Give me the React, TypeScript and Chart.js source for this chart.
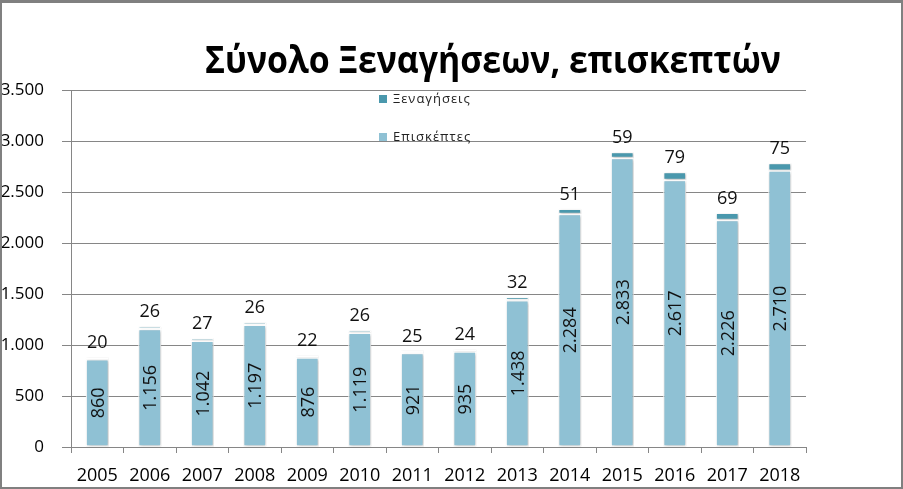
import React, { useEffect, useRef } from "react";
import { Chart, registerables } from "chart.js";

Chart.register(...registerables);

const titleText = "Σύνολο Ξεναγήσεων, επισκεπτών";
const years = ["2005", "2006", "2007", "2008", "2009", "2010", "2011", "2012", "2013", "2014", "2015", "2016", "2017", "2018"];
const visitors = [860, 1156, 1042, 1197, 876, 1119, 921, 935, 1438, 2284, 2833, 2617, 2226, 2710];
const tours = [20, 26, 27, 26, 22, 26, 25, 24, 32, 51, 59, 79, 69, 75];
const yTicks = [0, 500, 1000, 1500, 2000, 2500, 3000, 3500];
const seriesNames = ["Επισκέπτες", "Ξεναγήσεις"];
const seriesColors = ["#8FC1D4", "#4A98AD"];

const FONT = '"Open Sans", "DejaVu Sans", sans-serif';

const fmt = (v: number) => String(Math.round(v)).replace(/\B(?=(\d{3})+(?!\d))/g, ".");

const decorPlugin = {
  id: "decor",
  beforeDatasetDraw(chart: any) {
    const ctx = chart.ctx;
    ctx.save();
    ctx.shadowColor = "rgba(0,0,0,0.28)";
    ctx.shadowBlur = 3;
    ctx.shadowOffsetX = 1;
    ctx.shadowOffsetY = 1;
  },
  afterDatasetDraw(chart: any) {
    chart.ctx.restore();
  },
  afterDatasetsDraw(chart: any) {
    const ctx = chart.ctx;
    const metaV = chart.getDatasetMeta(0);
    const metaT = chart.getDatasetMeta(1);
    ctx.save();
    ctx.fillStyle = "#111";
    ctx.font = `18px ${FONT}`;
    metaV.data.forEach((bar: any, i: number) => {
      const p = bar.getProps(["x", "y", "base"], true);
      ctx.save();
      ctx.translate(p.x, (p.y + p.base) / 2);
      ctx.rotate(-Math.PI / 2);
      ctx.textAlign = "center";
      ctx.textBaseline = "alphabetic";
      ctx.fillText(fmt(visitors[i]), 0, 6.4);
      ctx.restore();
    });
    metaT.data.forEach((bar: any, i: number) => {
      const p = bar.getProps(["x", "y"], true);
      ctx.textAlign = "center";
      ctx.textBaseline = "alphabetic";
      ctx.fillText(String(tours[i]), p.x, p.y - 9);
    });
    ctx.restore();
  },
  afterDraw(chart: any) {
    const ctx = chart.ctx;
    ctx.save();
    // Title
    ctx.fillStyle = "#000";
    ctx.font = `bold 38px ${FONT}`;
    ctx.textAlign = "left";
    ctx.textBaseline = "alphabetic";
    ctx.fillText(titleText, 205, 73, 576);
    // Legend (Ξεναγήσεις on top, Επισκέπτες below)
    const items = [
      { name: seriesNames[1], color: seriesColors[1], y: 99 },
      { name: seriesNames[0], color: seriesColors[0], y: 137 },
    ];
    ctx.font = `13px ${FONT}`;
    (ctx as any).letterSpacing = "1px";
    ctx.textBaseline = "middle";
    items.forEach((it) => {
      ctx.fillStyle = it.color;
      ctx.fillRect(379, it.y - 4, 8, 8);
      ctx.fillStyle = "#222";
      ctx.fillText(it.name, 393, it.y);
    });
    ctx.restore();
  },
};

export default function App() {
  const ref = useRef<HTMLCanvasElement>(null);
  useEffect(() => {
    const chart = new Chart(ref.current as HTMLCanvasElement, {
      type: "bar",
      data: {
        labels: years,
        datasets: [
          {
            label: seriesNames[0],
            data: visitors,
            backgroundColor: seriesColors[0],
            borderColor: "#ffffff",
            borderWidth: 1.2,
            borderSkipped: false,
            barPercentage: 0.44,
            categoryPercentage: 1,
          },
          {
            label: seriesNames[1],
            data: tours,
            backgroundColor: seriesColors[1],
            borderColor: "#ffffff",
            borderWidth: 1.2,
            borderSkipped: false,
            barPercentage: 0.44,
            categoryPercentage: 1,
          },
        ],
      },
      options: {
        responsive: false,
        animation: false,
        layout: { padding: { top: 90, right: 97, left: 0, bottom: 0 } },
        plugins: {
          legend: { display: false },
          title: { display: false },
          tooltip: { enabled: false },
        },
        scales: {
          x: {
            stacked: true,
            grid: {
              display: true,
              drawOnChartArea: false,
              drawTicks: true,
              tickLength: 6,
              color: "#868686",
              offset: true,
            },
            border: { display: true, color: "#868686" },
            ticks: {
              color: "#000",
              font: { family: FONT, size: 18 },
              padding: 12,
              maxRotation: 0,
              autoSkip: false,
            },
            afterFit: (s: any) => {
              s.height = 42;
            },
          },
          y: {
            stacked: true,
            min: 0,
            max: 3500,
            grid: { color: "#868686", tickLength: 9, lineWidth: 1 },
            border: { display: true, color: "#868686" },
            ticks: {
              color: "#000",
              font: { family: FONT, size: 17 },
              padding: 18,
              callback: (v: any) => fmt(Number(v)),
            },
            afterBuildTicks: (s: any) => {
              s.ticks = yTicks.map((v) => ({ value: v }));
            },
            afterFit: (s: any) => {
              s.width = 71;
            },
          },
        },
      },
      plugins: [decorPlugin],
    } as any);
    return () => chart.destroy();
  }, []);
  return (
    <div style={{ position: "fixed", left: 0, top: 0, width: 903, height: 489, background: "#fff" }}>
      <canvas
        ref={ref}
        width={903}
        height={489}
        style={{ position: "absolute", left: 0, top: 0, width: 903, height: 489 }}
      />
      <div
        style={{
          position: "absolute",
          left: 0,
          top: 0,
          width: 903,
          height: 489,
          boxSizing: "border-box",
          borderStyle: "solid",
          borderColor: "#808080",
          borderWidth: "3px 2px 2px 2px",
          pointerEvents: "none",
        }}
      />
    </div>
  );
}
